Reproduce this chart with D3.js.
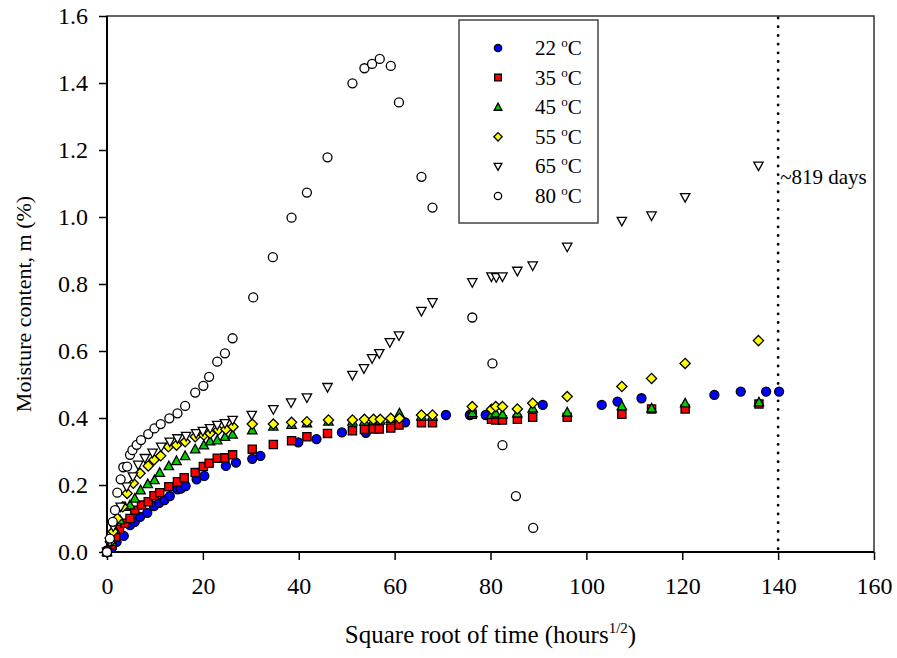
<!DOCTYPE html>
<html>
<head>
<meta charset="utf-8">
<script src="https://cdn.jsdelivr.net/npm/d3@7"></script>
<style>
  body { margin: 0; background: #fff; }
  text { font-family: "Liberation Serif", "Times New Roman", serif; fill: #000; }
</style>
</head>
<body>
<svg id="chart" width="897" height="658"></svg>
<script>
/*---- DATA ----*/
// [sqrt(hours), moisture %]
var s22 = [[0,0.005],[1,0.012],[2,0.03],[3.5,0.048],[4.8,0.08],[5.8,0.09],[6.9,0.105],[8.4,0.117],[9.8,0.137],[10.9,0.147],[12,0.155],[13.1,0.167],[14.7,0.187],[15.4,0.189],[16.4,0.197],[18.7,0.217],[20.3,0.227],[24.8,0.257],[26.9,0.267],[30.3,0.278],[32,0.287],[39.9,0.327],[43.7,0.337],[49,0.357],[54,0.356],[62.2,0.387],[70.7,0.409],[75.7,0.409],[79,0.409],[90.9,0.439],[103.2,0.439],[106.5,0.449],[111.5,0.459],[126.7,0.469],[132.2,0.479],[137.5,0.479],[140.2,0.479]];
var s35 = [[0,0],[1,0.02],[1.8,0.045],[2.6,0.068],[3.75,0.086],[4.8,0.1],[5.8,0.125],[7.2,0.14],[8.6,0.15],[9.8,0.168],[11,0.177],[12.9,0.195],[14.7,0.21],[16.1,0.222],[18.4,0.237],[20.1,0.255],[21.3,0.265],[23,0.28],[24.6,0.281],[26.2,0.29],[30.3,0.307],[34.7,0.321],[38.5,0.332],[41.7,0.344],[46,0.354],[51.2,0.362],[53.7,0.366],[55.6,0.367],[56.8,0.367],[59.2,0.37],[60.9,0.379],[65.6,0.386],[67.9,0.386],[76.2,0.411],[80.2,0.396],[81.1,0.394],[82.5,0.394],[85.6,0.396],[88.8,0.402],[96,0.402],[107.4,0.411],[113.6,0.427],[120.6,0.427],[136,0.442]];
var s45 = [[0,0],[1,0.03],[1.67,0.066],[2.7,0.096],[3.75,0.135],[4.8,0.14],[5.8,0.16],[7,0.185],[8.5,0.203],[9.9,0.215],[11,0.237],[12.9,0.257],[14.5,0.272],[16.3,0.287],[18.4,0.307],[20.2,0.319],[21.5,0.331],[23,0.334],[24.6,0.344],[26.2,0.351],[30.3,0.364],[34.7,0.375],[38.5,0.38],[41.7,0.385],[46.2,0.39],[51.2,0.39],[53.7,0.39],[55.6,0.393],[57,0.393],[59.2,0.398],[61,0.414],[65.6,0.405],[67.9,0.405],[76.2,0.415],[80.2,0.41],[81.1,0.414],[82.5,0.411],[85.6,0.414],[88.8,0.429],[96,0.417],[107.4,0.436],[113.6,0.429],[120.6,0.444],[136,0.447]];
var s55 = [[0,0],[0.7,0.03],[1.3,0.061],[2.15,0.1],[3.3,0.135],[4.2,0.175],[5.5,0.205],[6.9,0.235],[8.6,0.257],[9.8,0.275],[11.2,0.287],[12.8,0.314],[14.5,0.319],[16.3,0.329],[18.4,0.344],[20.2,0.349],[21.5,0.354],[23.2,0.364],[24.8,0.366],[26.3,0.374],[30.3,0.382],[34.7,0.382],[38.5,0.387],[41.7,0.389],[46.2,0.394],[51.2,0.394],[53.7,0.396],[55.6,0.396],[57,0.396],[59.2,0.399],[61,0.399],[65.6,0.409],[67.9,0.409],[76.2,0.434],[80.2,0.426],[81.1,0.434],[82.5,0.434],[85.6,0.427],[88.8,0.444],[96,0.464],[107.4,0.494],[113.6,0.518],[120.6,0.563],[135.9,0.631]];
var s65 = [[0,0],[0.6,0.03],[1.3,0.076],[2.85,0.135],[4.1,0.195],[5.4,0.225],[6.5,0.26],[7.9,0.28],[9.5,0.296],[11.3,0.314],[13.1,0.329],[14.7,0.339],[16.5,0.346],[18.6,0.354],[20,0.361],[21.5,0.369],[23,0.379],[24.6,0.384],[26.2,0.394],[30.2,0.409],[34.7,0.426],[38.4,0.446],[41.7,0.461],[46,0.492],[51.2,0.528],[53.6,0.548],[55.3,0.578],[56.8,0.593],[59,0.626],[60.9,0.646],[65.6,0.719],[67.9,0.745],[76.2,0.805],[80.2,0.822],[81.2,0.82],[82.5,0.822],[85.6,0.839],[88.8,0.855],[96,0.911],[107.4,0.988],[113.6,1.004],[120.6,1.059],[135.9,1.153]];
var s80 = [[0,0],[0.6,0.04],[1.2,0.09],[1.67,0.125],[2.15,0.177],[2.85,0.217],[3.4,0.253],[4.2,0.255],[4.8,0.29],[5.3,0.304],[6.2,0.32],[7.1,0.334],[8.6,0.352],[9.9,0.369],[11.2,0.382],[13,0.399],[14.7,0.414],[16.3,0.436],[18.4,0.476],[20.1,0.496],[21.3,0.523],[23,0.568],[24.6,0.593],[26.2,0.638],[30.5,0.76],[34.6,0.88],[38.5,0.998],[41.7,1.073],[46,1.178],[51.2,1.399],[53.7,1.444],[55.3,1.457],[56.9,1.472],[59.2,1.451],[60.9,1.342],[65.6,1.12],[67.9,1.028],[76.2,0.70],[80.4,0.563],[82.5,0.319],[85.3,0.167],[88.9,0.072]];

var temps = ["22", "35", "45", "55", "65", "80"];
var allSeries = [s22, s35, s45, s55, s65, s80];
var xTicks = [0, 20, 40, 60, 80, 100, 120, 140, 160];
var yTicks = [0.0, 0.2, 0.4, 0.6, 0.8, 1.0, 1.2, 1.4, 1.6];
var limitX = 140;
var limitLabel = "~819 days";

/*---- STYLE ----*/
var fills = ["#0000ff", "#ff0000", "#00cc00", "#ffff00", "#ffffff", "#ffffff"];
var shapes = ["circle", "square", "triangle", "diamond", "downtri", "circle"];

var left = 107, top_ = 16, right = 874, bottom = 552;
var svg = d3.select("#chart");

var x = d3.scaleLinear().domain([0, 160]).range([left, right]);
var y = d3.scaleLinear().domain([0, 1.6]).range([bottom, top_]);

function marker_path(shape, k) {
    var p = d3.path();
    if (shape == "circle") {
        var r = 4.5 * k;
        p.moveTo(r, 0);
        p.arc(0, 0, r, 0, 2 * Math.PI);
    } else if (shape == "square") {
        var h = 4.1 * k;
        p.rect(-h, -h, 2 * h, 2 * h);
    } else if (shape == "triangle") {
        var w = 4.7 * k;
        p.moveTo(0, -4.9 * k); p.lineTo(w, 3.7 * k); p.lineTo(-w, 3.7 * k); p.closePath();
    } else if (shape == "downtri") {
        var w2 = 4.7 * k;
        p.moveTo(0, 4.9 * k); p.lineTo(w2, -3.7 * k); p.lineTo(-w2, -3.7 * k); p.closePath();
    } else if (shape == "diamond") {
        var d = 5.1 * k;
        p.moveTo(0, -d); p.lineTo(d, 0); p.lineTo(0, d); p.lineTo(-d, 0); p.closePath();
    }
    return p.toString();
}

/*---- AXES ----*/
var xAxis = svg.append("g")
    .attr("transform", "translate(0," + bottom + ")")
    .call(d3.axisBottom(x).tickValues(xTicks).tickSize(8).tickPadding(17).tickFormat(d3.format("d")));
var yAxis = svg.append("g")
    .attr("transform", "translate(" + left + ",0)")
    .call(d3.axisLeft(y).tickValues(yTicks).tickSize(8).tickPadding(11).tickFormat(d3.format(".1f")));

[xAxis, yAxis].forEach(function(a) {
    a.select(".domain").remove();
    a.selectAll(".tick line").attr("stroke", "#000").attr("stroke-width", 1.5);
    a.selectAll(".tick text").style("font-family", "'Liberation Serif', serif").style("font-size", "24px").attr("fill", "#000");
});

// frame
svg.append("rect")
    .attr("x", left).attr("y", top_)
    .attr("width", right - left).attr("height", bottom - top_)
    .attr("fill", "none").attr("stroke", "#333").attr("stroke-width", 1.5);
svg.append("line").attr("x1", left).attr("x2", left).attr("y1", top_).attr("y2", bottom)
    .attr("stroke", "#000").attr("stroke-width", 2);
svg.append("line").attr("x1", left).attr("x2", right).attr("y1", bottom).attr("y2", bottom)
    .attr("stroke", "#000").attr("stroke-width", 2);

/*---- LIMIT LINE ----*/
svg.append("line")
    .attr("x1", x(limitX)).attr("x2", x(limitX))
    .attr("y1", top_ + 2).attr("y2", bottom)
    .attr("stroke", "#000").attr("stroke-width", 2.8)
    .attr("stroke-linecap", "round")
    .attr("stroke-dasharray", "0.1 8.6");
svg.append("text")
    .attr("x", x(limitX) + 2).attr("y", 184)
    .style("font-size", "21px")
    .text(limitLabel);

/*---- POINTS ----*/
allSeries.forEach(function(s, i) {
    svg.append("g")
        .selectAll("path")
        .data(s)
        .enter()
        .append("path")
        .attr("d", marker_path(shapes[i], 1))
        .attr("transform", function(d) { return "translate(" + x(d[0]) + "," + y(d[1]) + ")"; })
        .attr("fill", fills[i])
        .attr("stroke", "#000")
        .attr("stroke-width", 1.3);
});

/*---- LEGEND ----*/
var lg = svg.append("g");
lg.append("rect")
    .attr("x", 459).attr("y", 20).attr("width", 139).attr("height", 203)
    .attr("fill", "#fff").attr("stroke", "#444").attr("stroke-width", 1.5);
temps.forEach(function(t, i) {
    var ry = 48 + i * 29.6;
    lg.append("path")
        .attr("d", marker_path(shapes[i], 0.82))
        .attr("transform", "translate(498," + ry + ")")
        .attr("fill", fills[i]).attr("stroke", "#000").attr("stroke-width", 1.3);
    var tx = lg.append("text").attr("x", 535).attr("y", ry + 7).style("font-size", "21px");
    tx.append("tspan").text(t + " ");
    tx.append("tspan").attr("dy", -8).style("font-size", "13px").text("o");
    tx.append("tspan").attr("dy", 8).text("C");
});

/*---- TITLES ----*/
var xt = svg.append("text")
    .attr("x", (left + right) / 2).attr("y", 643)
    .attr("text-anchor", "middle")
    .style("font-size", "25px");
xt.append("tspan").text("Square root of time (hours");
xt.append("tspan").attr("dy", -10).style("font-size", "15px").text("1/2");
xt.append("tspan").attr("dy", 10).text(")");

svg.append("text")
    .attr("transform", "translate(31,304) rotate(-90)")
    .attr("text-anchor", "middle")
    .style("font-size", "22px")
    .text("Moisture content, m (%)");
</script>
</body>
</html>
